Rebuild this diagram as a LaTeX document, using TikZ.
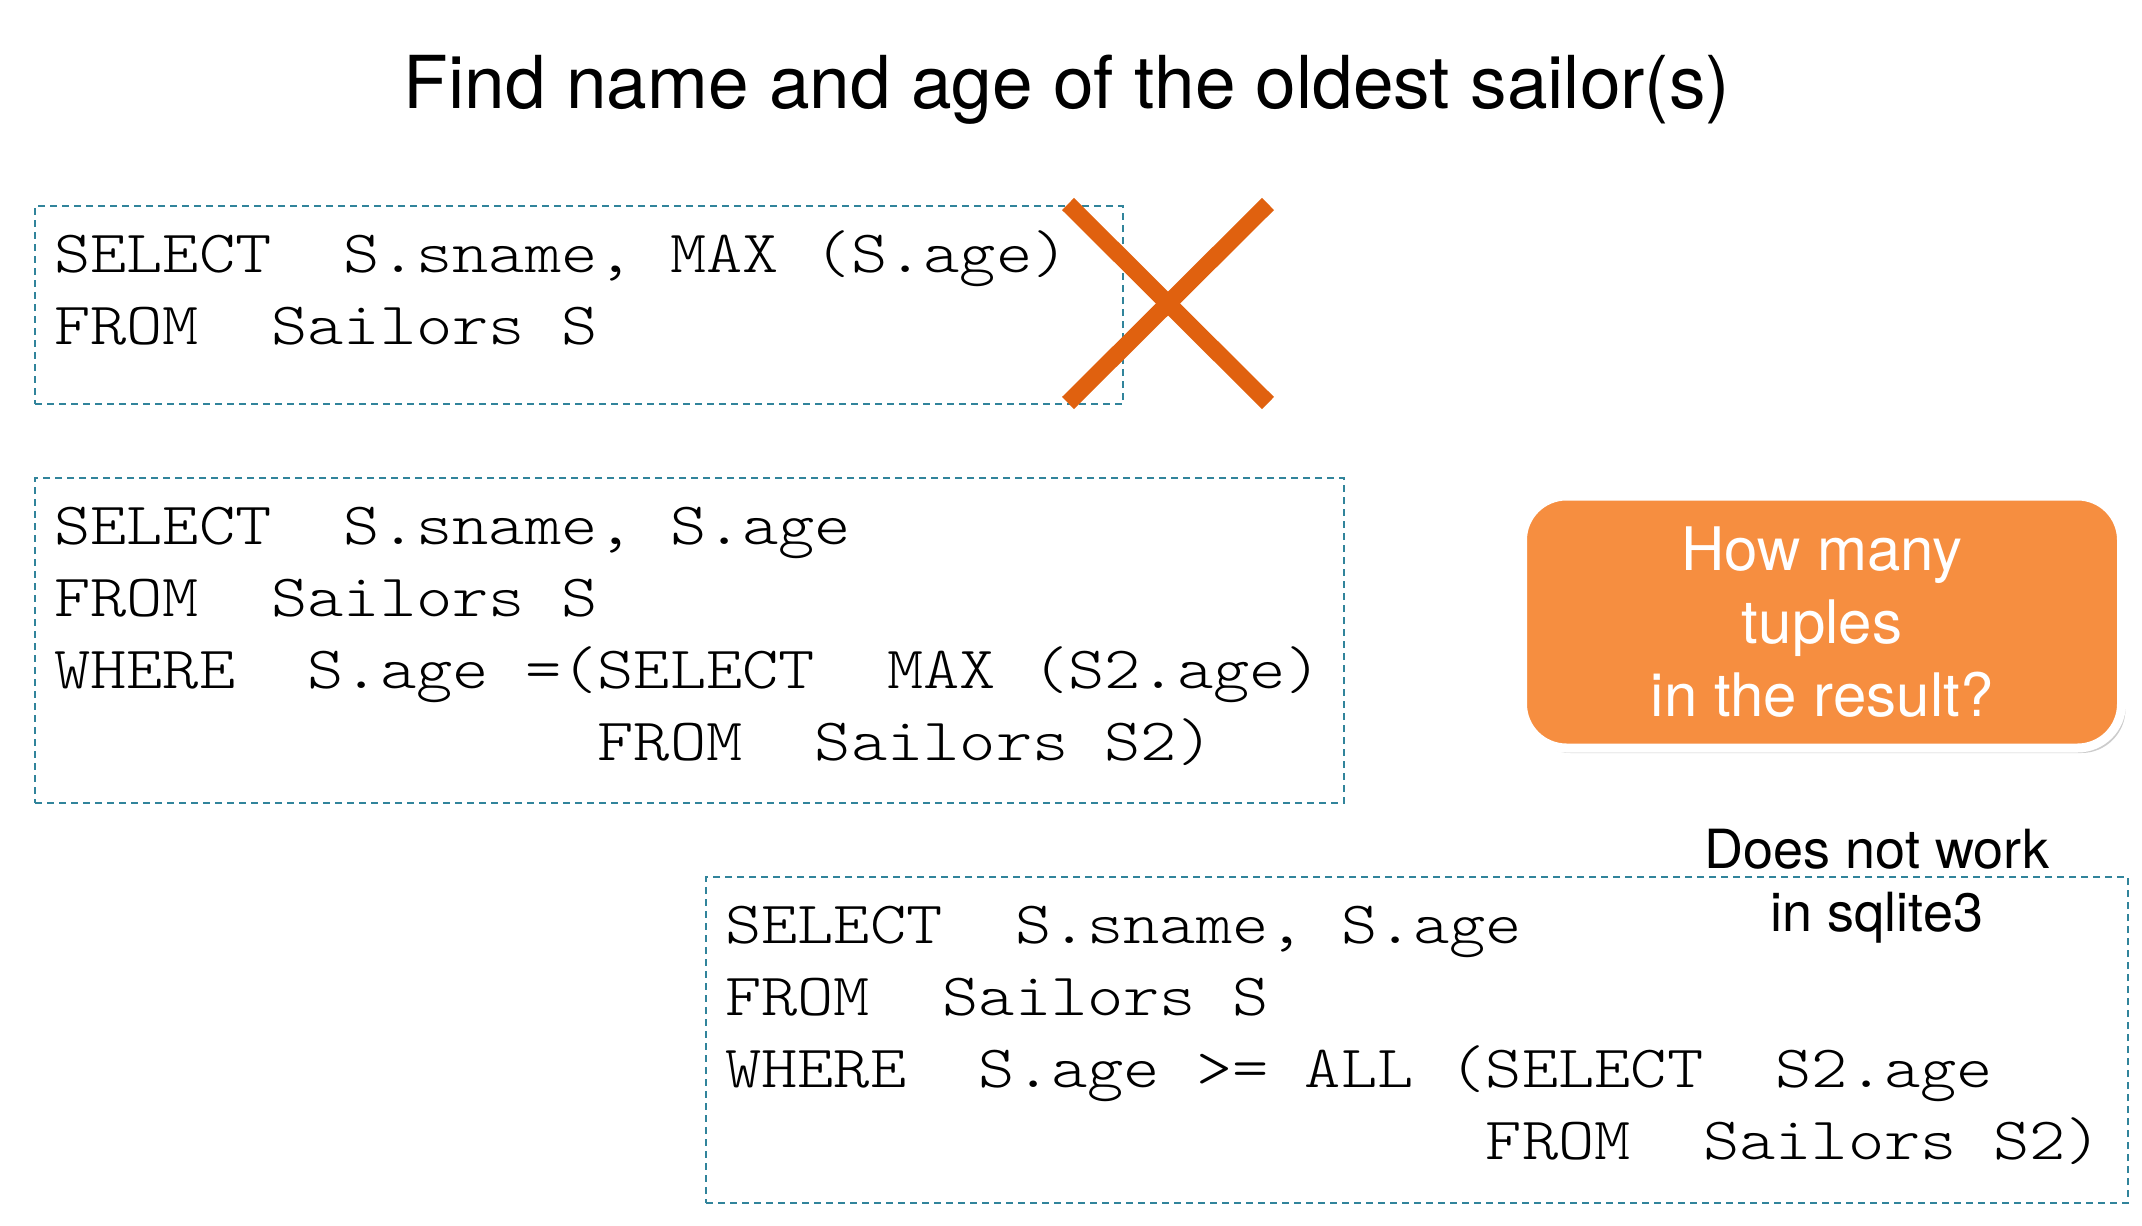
\documentclass[tikz,border=0pt]{standalone}
\usepackage{fontspec}
\setmainfont{TeX Gyre Heros}
\newfontfamily\sqlfont[FakeStretch=1.15]{lmmonolt10-regular.otf}
\usepackage{xcolor}
\usetikzlibrary{positioning, shadows}

\definecolor{dashteal}{RGB}{49,132,155}
\definecolor{crossorange}{RGB}{224,97,15}
\definecolor{calloutorange}{RGB}{246,142,64}

\begin{document}
\begin{tikzpicture}[
            x=1pt, y=-1pt,
            codebox/.style={draw=dashteal, line width=2pt, dash pattern=on 7pt off 5pt, inner sep=0pt, anchor=north west},
            codeline/.style={anchor=base west, inner sep=0pt, font=\fontsize{60}{72}\sqlfont},
            crossline/.style={draw=crossorange, line width=17pt},
            callout/.style={draw=white, line width=9pt, fill=calloutorange, rounded corners=44pt, text=white, align=center, font=\fontsize{60}{73}\selectfont, drop shadow={shadow xshift=4pt, shadow yshift=-5pt, opacity=0.2, fill=black}},
            note/.style={align=center, inner sep=0pt, font=\fontsize{54}{63}\selectfont},
        ]
            \useasboundingbox (0,0) rectangle (2142,1226);

            \node[anchor=base, inner sep=0pt, font=\fontsize{73}{80}\selectfont] (heading) at (1067,108) {Find name and age of the oldest sailor(s)};

            % first query
            \node[codebox, minimum width=1088pt, minimum height=198pt] (q1) at (34,205) {};
            \foreach \txt [count=\i from 0] in {{SELECT~~S.sname, MAX (S.age)}, {FROM~~Sailors S}}
                \node[codeline] (q1l\i) at (54, 272+72*\i) {\txt};
            \draw[crossline] (1068,204) -- (1268,403);
            \draw[crossline] (1268,204) -- (1068,403);

            % second query
            \node[codebox, minimum width=1309pt, minimum height=325pt] (q2) at (34,477) {};
            \foreach \txt [count=\i from 0] in {{SELECT~~S.sname, S.age}, {FROM~~Sailors S}, {WHERE~~S.age =(SELECT~~MAX (S2.age)}, {\phantom{WHERE~~S.age =(}FROM~~Sailors S2)}}
                \node[codeline] (q2l\i) at (54, 544+72*\i) {\txt};

            \node[callout, minimum width=599pt, minimum height=252pt] (ask) at (1822,622) {How many\\tuples\\in the result?};

            % third query
            \node[codebox, minimum width=1422pt, minimum height=326pt] (q3) at (705,876) {};
            \foreach \txt [count=\i from 0] in {{SELECT~~S.sname, S.age}, {FROM~~Sailors S}, {WHERE~~S.age >= ALL (SELECT~~S2.age}, {\phantom{WHERE~~S.age >= ALL (}FROM~~Sailors S2)}}
                \node[codeline] (q3l\i) at (725, 943+72*\i) {\txt};

            \node[note] (caveat) at (1877,886) {Does not work\\in sqlite3};
        \end{tikzpicture}
\end{document}
